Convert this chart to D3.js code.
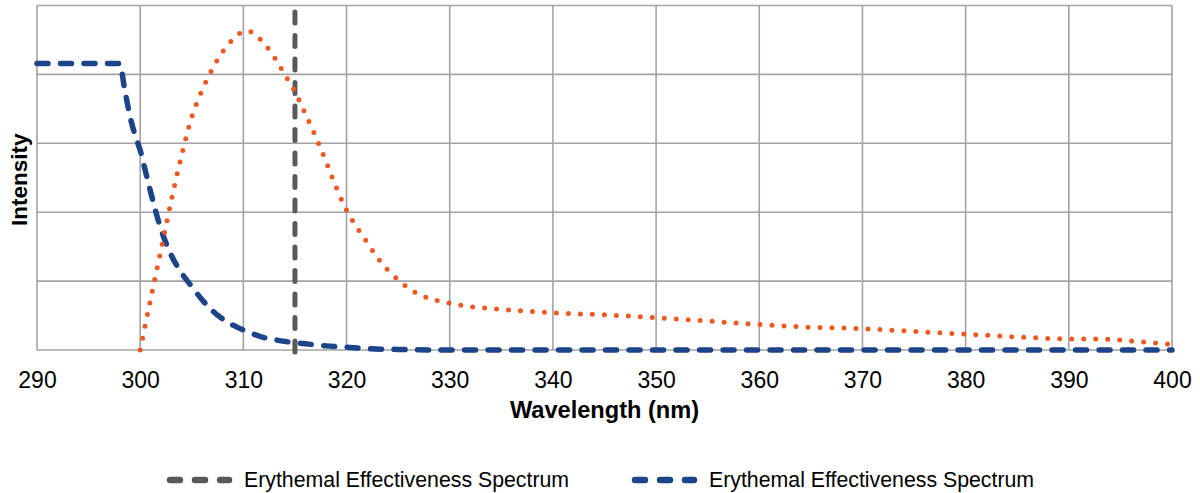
<!DOCTYPE html>
<html>
<head>
<meta charset="utf-8">
<script src="https://cdn.jsdelivr.net/npm/d3@7"></script>
<style>
  html, body { margin: 0; padding: 0; background: #fff; }
  svg { display: block; font-family: "Liberation Sans", Arial, sans-serif; }
</style>
</head>
<body>
<svg id="chart" width="1200" height="493"></svg>
<script>
// ---- Data ----
const xTicks = [290, 300, 310, 320, 330, 340, 350, 360, 370, 380, 390, 400];
const yTicks = [0, 1, 2, 3, 4, 5];

// Orange dotted spectrum
const orangeWl  = [300, 301, 302, 303, 304, 305, 306, 307, 308, 309, 310, 310.5, 311, 312, 313, 314, 315, 316, 317, 318, 319, 320, 321, 322, 323, 324, 325, 326, 327, 328, 329, 330, 332, 335, 340, 345, 350, 355, 360, 365, 370, 375, 380, 385, 390, 393, 395, 397, 399, 400];
const orangeVal = [0, 0.73, 1.44, 2.16, 2.82, 3.38, 3.77, 4.08, 4.33, 4.51, 4.62, 4.63, 4.59, 4.45, 4.25, 4.00, 3.75, 3.43, 3.10, 2.74, 2.36, 2.03, 1.78, 1.56, 1.34, 1.16, 1.02, 0.90, 0.81, 0.75, 0.71, 0.68, 0.63, 0.59, 0.54, 0.51, 0.47, 0.42, 0.37, 0.33, 0.31, 0.27, 0.23, 0.19, 0.16, 0.16, 0.145, 0.12, 0.095, 0.08];

// Blue dashed spectrum
const blueWl  = [290, 298, 298.5, 299, 299.5, 300, 300.5, 301, 302, 303, 304, 305, 306, 307, 308, 309, 310, 311, 312, 313, 314, 315, 316, 317, 318, 320, 322, 325, 330, 400];
const blueVal = [4.16, 4.16, 3.78, 3.40, 3.12, 2.90, 2.60, 2.30, 1.76, 1.38, 1.12, 0.92, 0.73, 0.57, 0.45, 0.36, 0.29, 0.23, 0.18, 0.15, 0.125, 0.105, 0.09, 0.075, 0.06, 0.04, 0.02, 0.008, 0, 0];

// Gray vertical dashed marker
const grayWl  = [315, 315];
const grayVal = [-0.03, 5.08];

const legendLabels = ["Erythemal Effectiveness Spectrum", "Erythemal Effectiveness Spectrum"];
const xTitle = "Wavelength (nm)";
const yTitle = "Intensity";

// ---- Chart ----
const svg = d3.select("#chart");
const x = d3.scaleLinear().domain([290, 400]).range([37, 1172]);
const y = d3.scaleLinear().domain([0, 5]).range([350, 5.5]);

const gridColor = "#A3A3A3";
const g = svg.append("g");

// gridlines
g.selectAll("line.vg").data(xTicks).join("line")
  .attr("x1", d => x(d)).attr("x2", d => x(d))
  .attr("y1", y(0)).attr("y2", y(5))
  .attr("stroke", gridColor).attr("stroke-width", 1.6);
g.selectAll("line.hg").data(yTicks).join("line")
  .attr("x1", x(290)).attr("x2", x(400))
  .attr("y1", d => y(d)).attr("y2", d => y(d))
  .attr("stroke", gridColor).attr("stroke-width", 1.6);

// x axis labels
const xAxis = d3.axisBottom(x).tickValues(xTicks).tickSize(0).tickPadding(22).tickFormat(d3.format("d"));
const ax = svg.append("g").attr("transform", `translate(0,${y(0)})`).call(xAxis);
ax.select(".domain").remove();
ax.selectAll("text").attr("font-size", 23).attr("fill", "#000")
  .attr("font-family", "'Liberation Sans', Arial, sans-serif");

// titles
svg.append("text").attr("x", (x(290) + x(400)) / 2).attr("y", 418)
  .attr("text-anchor", "middle").attr("font-size", 23.6).attr("font-weight", "bold")
  .text(xTitle);
svg.append("text").attr("transform", `translate(27,${(y(0) + y(5)) / 2 + 2}) rotate(-90)`)
  .attr("text-anchor", "middle").attr("font-size", 22.5).attr("font-weight", "bold")
  .text(yTitle);

const line = d3.line().x(d => x(d[0])).y(d => y(d[1]));

// blue
const blueData = blueWl.map((w, i) => [w, blueVal[i]]);
svg.append("path").datum(blueData)
  .attr("d", line.curve(d3.curveMonotoneX))
  .attr("fill", "none").attr("stroke", "#1C4489").attr("stroke-width", 5.5)
  .attr("stroke-dasharray", "11 12.5").attr("stroke-linecap", "round");

// gray vertical
const grayData = grayWl.map((w, i) => [w, grayVal[i]]);
svg.append("path").datum(grayData)
  .attr("d", d3.line().x(d => x(d[0])).y(d => y(d[1])))
  .attr("fill", "none").attr("stroke", "#595959").attr("stroke-width", 5)
  .attr("stroke-dasharray", "11 12.5").attr("stroke-linecap", "round");

// orange dotted
const orangeData = orangeWl.map((w, i) => [w, orangeVal[i]]);
svg.append("path").datum(orangeData)
  .attr("d", d3.line().x(d => x(d[0])).y(d => y(d[1])).curve(d3.curveMonotoneX))
  .attr("fill", "none").attr("stroke", "#EC5A22").attr("stroke-width", 5)
  .attr("stroke-dasharray", "0 12").attr("stroke-linecap", "round");

// legend
const legendColors = ["#595959", "#1C4489"];
const legendX = [167, 632];
legendLabels.forEach((lbl, i) => {
  svg.append("line").attr("x1", legendX[i] + 3).attr("x2", legendX[i] + 62)
    .attr("y1", 480).attr("y2", 480)
    .attr("stroke", legendColors[i]).attr("stroke-width", 6.5)
    .attr("stroke-dasharray", "10 15").attr("stroke-linecap", "round");
  svg.append("text").attr("x", legendX[i] + 77).attr("y", 487)
    .attr("font-size", 21.3).attr("fill", "#000").text(lbl);
});
</script>
</body>
</html>
